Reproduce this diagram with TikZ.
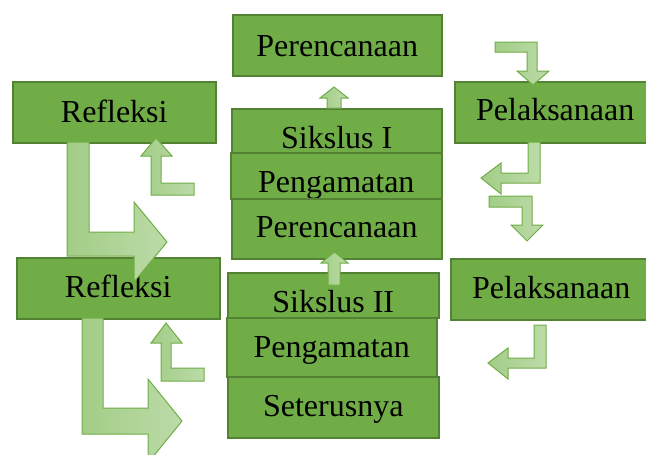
\documentclass[tikz,border=0pt]{standalone}
\usepackage{fontspec}
\setmainfont{Liberation Serif}
\definecolor{boxfill}{HTML}{70AD47}
\definecolor{boxline}{HTML}{548235}
\definecolor{arrfillA}{HTML}{A2CD87}
\definecolor{arrfillB}{HTML}{BCDBA8}
\definecolor{arrline}{HTML}{70AD47}
\begin{document}
\begin{tikzpicture}[x=1pt,y=-1pt,
  stepbox/.style={draw=boxline, fill=boxfill, line width=1.5pt, inner sep=0pt,
    anchor=north west, font=\fontsize{32}{38}\selectfont, text=black},
  blockarrow/.style={draw=arrline, line width=1pt, left color=arrfillA,
    right color=arrfillB, line join=miter}]
\useasboundingbox (0,0) rectangle (646,455);
% boxes
\node[stepbox, minimum width=209pt, text height=42pt, text depth=19pt] (per1) at (232,14) {Perencanaan};
\node[stepbox, minimum width=203pt, text height=41pt, text depth=20pt] (ref1) at (12,81) {Refleksi};
\node[stepbox, minimum width=201pt, text height=39pt, text depth=22pt] (pel1) at (454,81) {Pelaksanaan};
\node[stepbox, minimum width=210pt, text height=40pt, text depth=4pt] (sik1) at (231,108) {Sikslus I};
\node[stepbox, minimum width=211pt, text height=40pt, text depth=6pt] (pen1) at (230,152) {Pengamatan};
\node[stepbox, minimum width=210pt, text height=39pt, text depth=21pt] (per2) at (231,198) {Perencanaan};
\node[stepbox, minimum width=203pt, text height=40pt, text depth=21pt] (ref2) at (16,257) {Refleksi};
\node[stepbox, minimum width=201pt, text height=40pt, text depth=21pt] (pel2) at (450,258) {Pelaksanaan};
\node[stepbox, minimum width=211pt, text height=40pt, text depth=5pt] (sik2) at (227,272) {Sikslus II};
\node[stepbox, minimum width=210pt, text height=40pt, text depth=19pt] (pen2) at (226,317) {Pengamatan};
\node[stepbox, minimum width=211pt, text height=40pt, text depth=21pt] (set) at (227,376) {Seterusnya};
% block arrows
\path[blockarrow] (327,108) -- (327,98) -- (320,98) -- (334,87) -- (348,98) -- (341,98) -- (341,108) -- cycle;
\path[blockarrow] (328,285) -- (328,263) -- (321,263) -- (334.5,252) -- (348,263) -- (340,263) -- (340,285) -- cycle;
\path[blockarrow] (495,42) -- (537,42) -- (537,71) -- (549,71) -- (533,85) -- (517,71) -- (527,71) -- (527,52) -- (495,52) -- cycle;
\path[blockarrow] (528,142) -- (540,142) -- (540,183) -- (501,183) -- (501,194) -- (481,178) -- (501,163) -- (501,173) -- (528,173) -- cycle;
\path[blockarrow] (489,196) -- (532,196) -- (532,225) -- (543,225) -- (527,241) -- (511,225) -- (522,225) -- (522,207) -- (489,207) -- cycle;
\path[blockarrow] (534,325) -- (546,325) -- (546,368) -- (508,368) -- (508,379) -- (488,363) -- (508,348) -- (508,358) -- (534,358) -- cycle;
\path[blockarrow] (194,183) -- (194,195) -- (151,195) -- (151,156) -- (141,156) -- (156,138) -- (172,156) -- (161,156) -- (161,183) -- cycle;
\path[blockarrow] (204,368) -- (204,381) -- (161,381) -- (161,343) -- (151,343) -- (166,323) -- (182,343) -- (171,343) -- (171,368) -- cycle;
\path[blockarrow] (67,142) -- (89,142) -- (89,232) -- (134,232) -- (134,202) -- (167,242) -- (134,282) -- (134,256) -- (67,256) -- cycle;
\path[blockarrow] (82,318) -- (103,318) -- (103,408) -- (148,408) -- (148,379) -- (182,421) -- (148,463) -- (148,434) -- (82,434) -- cycle;
\end{tikzpicture}
\end{document}
